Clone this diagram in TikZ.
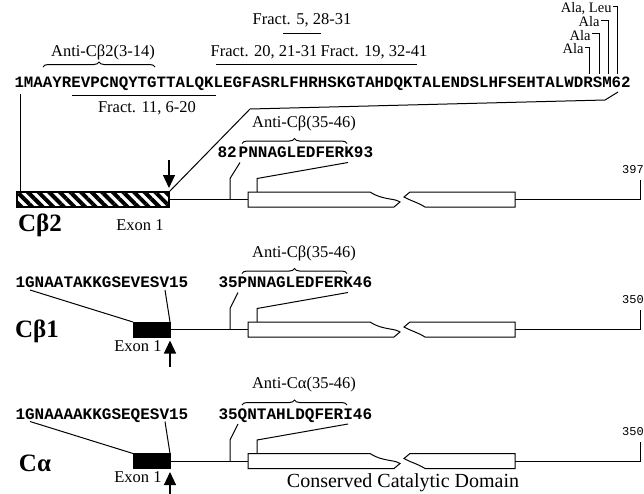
\documentclass[tikz,border=0pt]{standalone}
\usepackage{fontspec}
\setmainfont{Liberation Serif}
\setmonofont{Liberation Mono}
\usetikzlibrary{arrows.meta,decorations.pathreplacing,patterns.meta}
\tikzstyle{lbl} = [inner sep=0pt, font=\fontsize{16.5}{16.5}\selectfont]
\tikzstyle{ala} = [inner sep=0pt, anchor=east, font=\fontsize{14.5}{14.5}\selectfont]
\tikzstyle{seq} = [inner sep=0pt, anchor=base west, font=\ttfamily\bfseries\fontsize{16}{16}\selectfont]
\tikzstyle{gene} = [inner sep=0pt, font=\bfseries\fontsize{25}{25}\selectfont]
\tikzstyle{endno} = [inner sep=0pt, font=\ttfamily\fontsize{12}{12}\selectfont]
\tikzstyle{exon} = [rectangle, draw=black, fill=black, minimum width=37pt, minimum height=15pt, inner sep=0pt, outer sep=0pt]
\tikzstyle{hatch} = [rectangle, draw=black, line width=1.2pt, pattern={Lines[angle=-45,distance=7.5pt,line width=4pt]}, minimum width=152pt, minimum height=15pt, inner sep=0pt, outer sep=0pt]
\tikzstyle{brc} = [decorate, decoration={brace, amplitude=5pt}]
\tikzstyle{arrow} = [line width=1.2pt, -{Triangle[width=12pt,length=13pt]}]
\tikzstyle{dom} = [draw=black, line width=1pt, fill=white]
\tikzset{catdom/.pic={
  \draw[dom] (248,-7.5) -- (370,-7.5) .. controls (377,-3) and (382,-2) .. (390,-0.5) .. controls (396,0.5) .. (400,2.5) -- (394,7.5) -- (248,7.5) -- cycle;
  \draw[dom] (404,-2.5) -- (410,-7.5) -- (515,-7.5) -- (515,7.5) -- (425,7.5) .. controls (418,3) and (410,1) .. (404,-2.5) -- cycle;
}}

\begin{document}
\begin{tikzpicture}[x=1pt, y=-1pt, line width=1pt]
  \useasboundingbox (0,0) rectangle (644,493);

  % top sequence and fragments
  \node[seq, font=\ttfamily\bfseries\fontsize{15.8}{16}\selectfont] (top) at (14,87) {1MAAYREVPCNQYTGTTALQKLEGFASRLFHRHSKGTAHDQKTALENDSLHFSEHTALWDRSM62};
  \node[lbl] (f5) at (302,20) {Fract. 5, 28-31};
  \draw (283,33) -- (321,33);
  \node[lbl] (ab2) at (103,52) {Anti-Cβ2(3-14)};
  \draw[brc] (43,67) -- (155,67);
  \node[lbl] (f20) at (264,52) {Fract. 20, 21-31};
  \draw (216,64) -- (321,64);
  \node[lbl] (f19) at (374,52) {Fract. 19, 32-41};
  \draw (321,64) -- (417,64);
  \draw (72,95) -- (216,95);
  \node[lbl] (f11) at (147,108) {Fract. 11, 6-20};

  % alanine replacements
  \node[ala] (al4) at (612,8.5) {Ala, Leu};
  \node[ala] (al3) at (600,22) {Ala};
  \node[ala] (al2) at (591,35.5) {Ala};
  \node[ala] (al1) at (584,49) {Ala};
  \draw (al4.east) ++(1,-2) -| (617,74);
  \draw (al3.east) ++(1,-2) -| (608,74);
  \draw (al2.east) ++(1,-2) -| (599,74);
  \draw (al1.east) ++(1,-2) -| (589,74);

  % C beta 2
  \node[hatch] (ex2) at (93,199.5) {};
  \node[gene] (cb2) at (40,225) {Cβ2};
  \node[lbl] (ex2l) at (140,225) {Exon 1};
  \coordinate (s1) at (20,94);
  \draw (s1) -- (s1 |- ex2.north);
  \coordinate (arr2) at (169,160);
  \draw[arrow, shorten >=4pt] (arr2) -- (arr2 |- ex2.north);
  \coordinate (k1) at (250,109);
  \coordinate (k2) at (605,100);
  \coordinate (k3) at (618,92);
  \draw (ex2.north east) -- (k1) -- (k2) -- (k3);
  \node[seq] (pep2) at (217,157.5) {82\kern2pt PNNAGLEDFERK93};
  \draw[brc] (242,143.5) -- (347,143.5);
  \node[lbl] (anti2) at (304,123.5) {Anti-Cβ(35-46)};
  \coordinate (d2) at (248,199.5);
  \coordinate (e2) at (640,199.5);
  \draw (ex2.east) -- (d2);
  \draw (515,199.5) -- (e2) -- (640,180);
  \node[endno] (n397) at (633,170) {397};
  \draw (230,199.5) -- (230,178.5) -- (240,162.5);
  \draw (257,192) -- (257,178.5) -- (348,162.5);
  \pic at (0,199.5) {catdom};

  % C beta 1
  \node[exon] (ex1) at (151.5,329.5) {};
  \node[gene] (cb1) at (37,331) {Cβ1};
  \node[lbl] (ex1l) at (138,346) {Exon 1};
  \node[seq] (nt1) at (15,287.5) {1GNAATAKKGSEVESV15};
  \draw (30,290) -- (ex1.north west);
  \draw (165,290) -- (ex1.north east);
  \coordinate (arr1) at (170,366.5);
  \draw[arrow, shorten >=3.5pt] (arr1) -- (ex1.south east);
  \node[seq] (pep1) at (218,287.5) {35PNNAGLEDFERK46};
  \draw[brc] (242,273.5) -- (347,273.5);
  \node[lbl] (anti1) at (304,253.5) {Anti-Cβ(35-46)};
  \coordinate (d1) at (248,329.5);
  \coordinate (e1) at (640,329.5);
  \draw (ex1.east) -- (d1);
  \draw (515,329.5) -- (e1) -- (640,310);
  \node[endno] (n350a) at (633,300) {350};
  \draw (230,329.5) -- (230,308.5) -- (238,292.5);
  \draw (257,322) -- (257,308.5) -- (348,292.5);
  \pic at (0,329.5) {catdom};

  % C alpha
  \node[exon] (exa) at (151.5,461) {};
  \node[gene] (ca) at (35,463) {Cα};
  \node[lbl] (exal) at (138,477.5) {Exon 1};
  \node[seq] (nta) at (15,419) {1GNAAAAKKGSEQESV15};
  \draw (30,421.5) -- (exa.north west);
  \draw (165,421.5) -- (exa.north east);
  \coordinate (arra) at (170,498);
  \draw[arrow, shorten >=3.5pt] (arra) -- (exa.south east);
  \node[seq] (pepa) at (218,419) {35QNTAHLDQFERI46};
  \draw[brc] (242,405) -- (347,405);
  \node[lbl] (antia) at (304,385) {Anti-Cα(35-46)};
  \coordinate (da) at (248,461);
  \coordinate (ea) at (640,461);
  \draw (exa.east) -- (da);
  \draw (515,461) -- (ea) -- (640,441.5);
  \node[endno] (n350b) at (633,431.5) {350};
  \draw (230,461) -- (230,440) -- (238,424);
  \draw (257,453.5) -- (257,440) -- (348,424);
  \pic at (0,461) {catdom};
  \node[lbl, font=\fontsize{20}{20}\selectfont] (ccd) at (403,483) {Conserved Catalytic Domain};
\end{tikzpicture}
\end{document}
